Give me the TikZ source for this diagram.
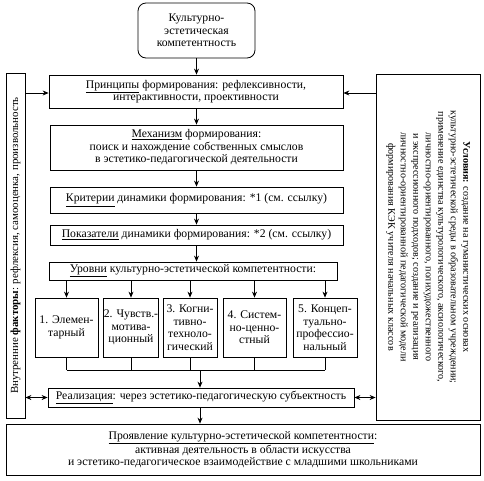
\documentclass[tikz,border=0pt]{standalone}
\usepackage{fontspec}
\setmainfont{Liberation Serif}
\usetikzlibrary{arrows.meta}
\tikzset{
  bx/.style={draw, line width=0.8pt, inner sep=0pt, align=center, font=\fontsize{11.7}{12.5}\selectfont},
  arr/.style={line width=0.7pt, -{Stealth[length=6pt,width=5pt]}},
  darr/.style={line width=0.7pt, {Stealth[length=6pt,width=5pt]}-{Stealth[length=6pt,width=5pt]}},
  ln/.style={line width=0.7pt}
}
\begin{document}
\begin{tikzpicture}[x=1pt,y=-1pt]
\useasboundingbox (0,0) rectangle (484,480);
\node[bx, rounded corners=8pt, minimum width=117pt, minimum height=55pt] (top) at (196.5,30.5) {Культурно-\\эстетическая\\компетентность};
\node[bx, minimum width=294pt, minimum height=33pt] (pr) at (196,91.5) {\underline{Принципы} формирования: рефлексивности,\\интерактивности, проективности};
\node[bx, minimum width=293pt, minimum height=45pt] (mech) at (196.5,147.5) {\underline{Механизм} формирования:\\поиск и нахождение собственных смыслов\\в эстетико-педагогической деятельности};
\node[bx, minimum width=293pt, minimum height=26pt] (krit) at (196.5,200) {\underline{Критерии} динамики формирования: *1 (см. ссылку)};
\node[bx, minimum width=293pt, minimum height=20pt] (pok) at (196.5,235) {\underline{Показатели} динамики формирования: *2 (см. ссылку)};
\node[bx, minimum width=288pt, minimum height=18pt] (ur) at (193,271) {\underline{Уровни} культурно-эстетической компетентности:};
\node[bx, minimum width=63pt, minimum height=59pt] (l1) at (66.5,327.5) {1. Элемен-\\тарный};
\node[bx, minimum width=54pt, minimum height=59pt] (l2) at (131,327.5) {2. Чувств.-\\мотива-\\ционный};
\node[bx, minimum width=54pt, minimum height=59pt] (l3) at (190,327.5) {3. Когни-\\тивно-\\техноло-\\гический};
\node[bx, minimum width=63pt, minimum height=59pt] (l4) at (254.5,327.5) {4. Систем-\\но-ценно-\\стный};
\node[bx, minimum width=64pt, minimum height=59pt] (l5) at (325,327.5) {5. Концеп-\\туально-\\профессио-\\нальный};
\node[bx, minimum width=306pt, minimum height=19pt] (real) at (201,397.5) {\underline{Реализация}: через эстетико-педагогическую субъектность};
\node[bx, minimum width=474pt, minimum height=51pt] (bot) at (243,449.5) {\underline{Проявление культурно-эстетической компетентности}:\\активная деятельность в области искусства\\и эстетико-педагогическое взаимодействие с младшими школьниками};
\node[bx, minimum width=19pt, minimum height=345pt] (left) at (15.5,245.5) {};
\node[rotate=90, inner sep=0pt, font=\fontsize{10.9}{12.5}\selectfont] (lefttxt) at (left.center) {Внутренние \textbf{факторы}: рефлексия, самооценка, произвольность};
\node[bx, minimum width=104pt, minimum height=346pt] (right) at (428,247) {};
\node[rotate=-90, inner sep=0pt, align=center, font=\fontsize{10.15}{12.5}\selectfont] (righttxt) at (right.center) {\textbf{Условия:} создание на гуманистических основах\\культурно-эстетической среды в образовательном учреждении;\\применение единства культурологического, аксиологического,\\личностно-ориентированного, полихудожественного\\и экспрессионного подходов; создание и реализация\\личностно-ориентированной педагогической модели\\формирования КЭК учителя начальных классов};
% vertical chain
\draw[arr] (top.south) -- (top.south |- pr.north);
\draw[arr] (top.south |- pr.south) -- (top.south |- mech.north);
\draw[arr] (top.south |- mech.south) -- (top.south |- krit.north);
\draw[arr] (top.south |- krit.south) -- (top.south |- pok.north);
\draw[arr] (top.south |- pok.south) -- (top.south |- ur.north);
\foreach \n in {l1,l2,l3,l4,l5}{\draw[arr] (\n.north |- ur.south) -- (\n.north);}
\coordinate (jn) at (200,370);
\foreach \n in {l1,l2,l3,l4,l5}{\draw[ln] (\n.south) -- (\n.south |- jn);}
\draw[ln] (l1.south |- jn) -- (l5.south |- jn);
\draw[arr] (jn) -- (jn |- real.north);
\draw[arr] (jn |- real.south) -- (jn |- bot.north);
% side connectors
\coordinate (ly) at (0,93);
\draw[arr] (left.east |- ly) -- (pr.west |- ly);
\draw[arr] (right.west |- ly) -- (pr.east |- ly);
\draw[darr] (left.east |- real.west) -- (real.west);
\draw[darr] (real.east) -- (right.west |- real.east);
\end{tikzpicture}
\end{document}
